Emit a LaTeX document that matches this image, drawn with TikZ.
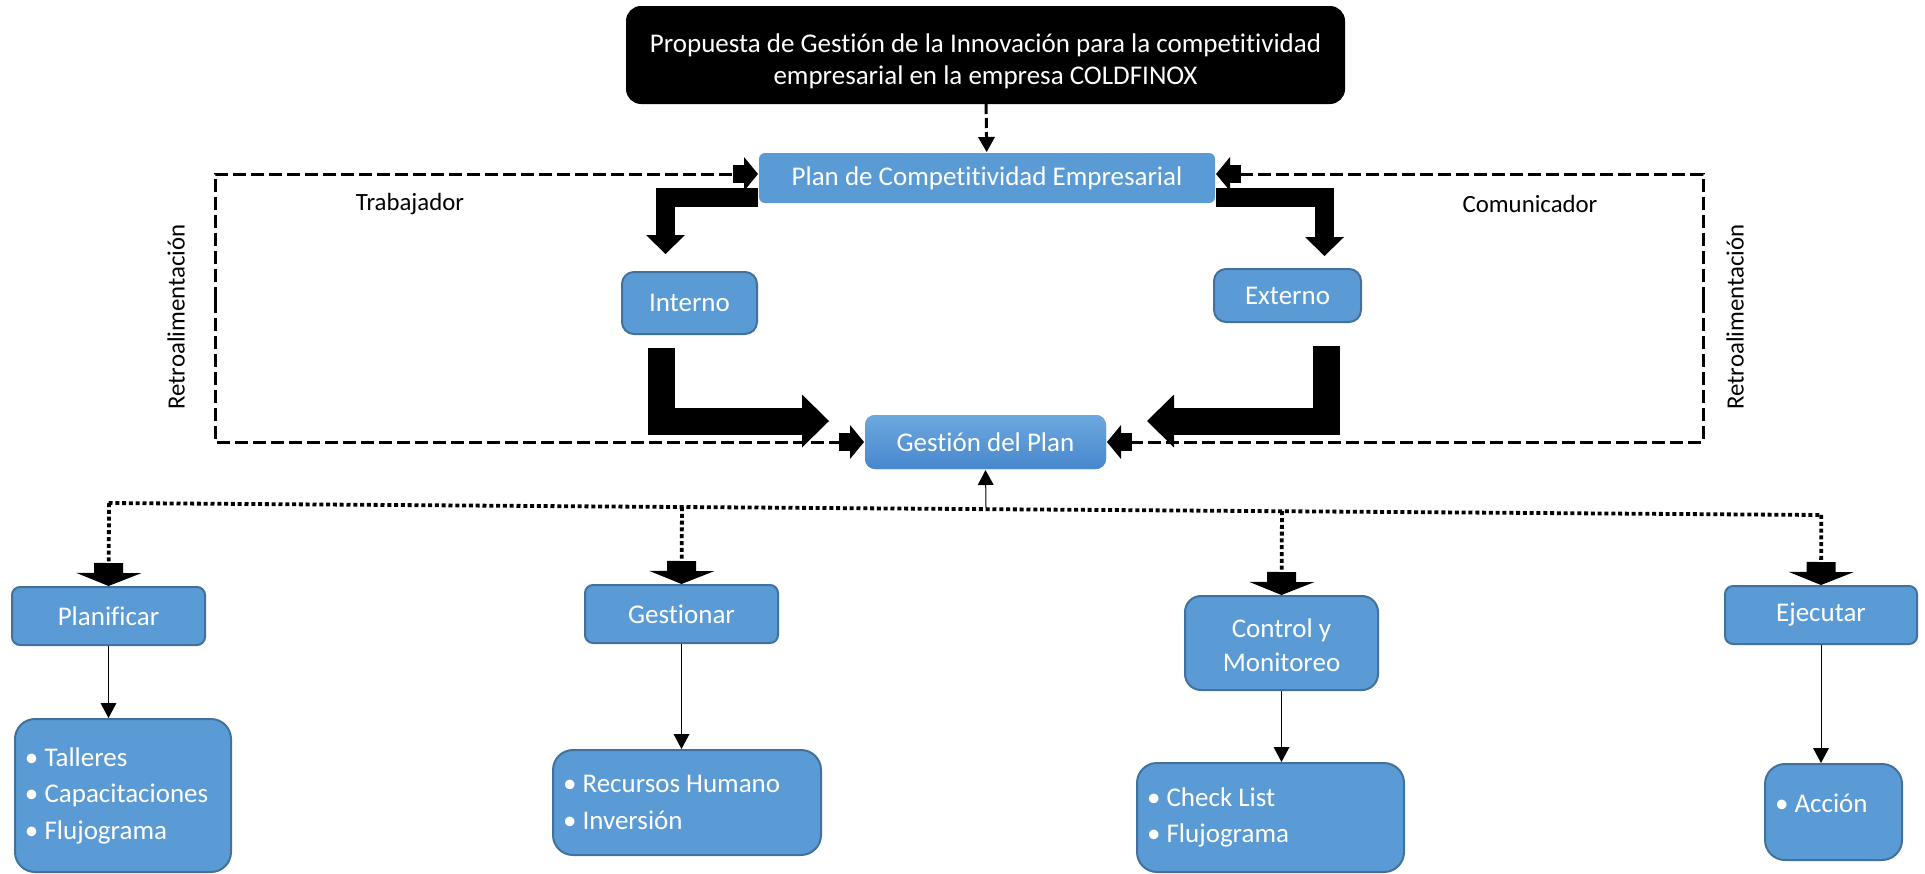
\documentclass[tikz,border=0pt]{standalone}
\usepackage{fontspec}
\setmainfont{Carlito}[Ligatures=NoCommon]
\usetikzlibrary{arrows.meta,calc}
\definecolor{azul}{HTML}{5B9BD5}
\definecolor{borde}{HTML}{41719C}
\definecolor{azulclaro}{HTML}{6DA8DF}
\definecolor{azuloscuro}{HTML}{4787CC}

\begin{document}
\begin{tikzpicture}[x=0.5pt,y=-0.5pt,
	caja/.style={rectangle,rounded corners=4pt,fill=azul,draw=borde,line width=1pt,text=white,
		font=\fontsize{13.5}{17}\selectfont,align=flush center,inner sep=0pt},
	lista/.style={caja,rounded corners=10pt,align=flush left,inner xsep=5pt,font=\fontsize{13.5}{18.25}\selectfont},
	etiqueta/.style={font=\fontsize{12.4}{15}\selectfont,inner sep=0pt},
	guion/.style={line width=1.5pt,dash pattern=on 5pt off 2pt,-{Triangle[length=7.5pt,width=8.5pt,line width=0pt]}},
	retro/.style={line width=1.5pt,dash pattern=on 6.5pt off 2.5pt,
		-{Rectangle[length=5.5pt,width=9pt,line width=0pt,sep=0pt]Triangle[length=7pt,width=17pt,line width=0pt]}},
	grueso/.style={line width=9.5pt,-{Triangle[length=9.5pt,width=19.5pt,line width=0pt]}},
	masgrueso/.style={line width=13.5pt,-{Triangle[length=13.5pt,width=26.5pt,line width=0pt]}},
	punteada/.style={line width=1.9pt,dash pattern=on 2pt off 1.4pt},
	rama/.style={punteada,-{Rectangle[length=5pt,width=14.5pt,line width=0pt,sep=0pt]Triangle[length=6.5pt,width=32.5pt,line width=0pt]}},
	fina/.style={line width=0.5pt,-{Triangle[length=7.5pt,width=8pt,line width=0pt]}}]
	\useasboundingbox (0,0) rectangle (1925,873);

	\node[caja,fill=black,draw=black,rounded corners=7pt,minimum width=358.5pt,minimum height=48pt,
		font=\fontsize{13.5}{16}\selectfont] (propuesta) at (985.5,55)
		{\rule{0pt}{15.5pt}Propuesta de Gestión de la Innovación para la competitividad\\empresarial en la empresa COLDFINOX};
	\node[caja,draw=none,rounded corners=3pt,minimum width=228pt,minimum height=25pt] (plan) at (987,178) {Plan de Competitividad Empresarial};
	\node[caja,rounded corners=6pt,minimum width=67.5pt,minimum height=31pt] (interno) at (689.5,303) {Interno};
	\node[caja,rounded corners=6pt,minimum width=73.5pt,minimum height=26.5pt] (externo) at (1287.5,295.5) {Externo};
	\node[caja,draw=none,top color=azulclaro,bottom color=azuloscuro,rounded corners=5pt,minimum width=120.5pt,minimum height=27pt] (gestion) at (985.5,442) {Gestión del Plan};

	\node[etiqueta] (trabajador) at (410,204) {Trabajador};
	\node[etiqueta] (comunicador) at (1530,204) {Comunicador};
	\node[etiqueta,rotate=90] (retroizq) at (176,317) {Retroalimentación};
	\node[etiqueta,rotate=90] (retroder) at (1735,317) {Retroalimentación};

	\node[caja,minimum width=96.5pt,minimum height=29pt] (planificar) at (108.5,616) {Planificar};
	\node[caja,minimum width=96.5pt,minimum height=29pt] (gestionar) at (681.5,614) {Gestionar};
	\node[caja,rounded corners=8pt,minimum width=96.5pt,minimum height=47pt] (control) at (1281.5,643) {\rule{0pt}{12pt}Control y\\Monitoreo};
	\node[caja,minimum width=96pt,minimum height=29pt] (ejecutar) at (1821,615) {Ejecutar};

	\node[lista,text width=98pt,minimum height=76.5pt] (lista1) at (123,795.5)
		{\textbullet\ Talleres\\\textbullet\ Capacitaciones\\\textbullet\ Flujograma};
	\node[lista,text width=124pt,minimum height=52.5pt] (lista2) at (687,802.5)
		{\textbullet\ Recursos Humano\\\textbullet\ Inversión};
	\node[lista,text width=123.5pt,minimum height=54.5pt] (lista3) at (1270.5,817.5)
		{\textbullet\ Check List\\\textbullet\ Flujograma};
	\node[lista,text width=58.5pt,minimum height=48pt] (lista4) at (1833.5,812)
		{\raisebox{4.5pt}[\height][\depth]{\textbullet\ Acción}};

	\coordinate (izq) at (215,300);
	\coordinate (der) at (1703,300);
	\coordinate (nodo) at (986,508);
	\coordinate (busizq) at (108.5,503);
	\coordinate (busder) at (1821,515);

	\draw[guion] (propuesta) -- (plan);
	\draw[retro] (izq) |- ([yshift=2pt]plan.west);
	\draw[retro] (izq) |- (gestion.west);
	\draw[retro] (der) |- ([yshift=2pt]plan.east);
	\draw[retro] (der) |- (gestion.east);

	\draw[grueso] ([yshift=-9.5pt]plan.west) -| ([xshift=-12pt,yshift=8.5pt]interno.north);
	\draw[masgrueso] ([xshift=-14pt,yshift=-6.5pt]interno.south) |- ([xshift=-17.5pt,yshift=10.5pt]gestion.west);
	\draw[grueso] ([yshift=-9.5pt]plan.east) -| ([xshift=18.5pt,yshift=6pt]externo.north);
	\draw[masgrueso] ([xshift=19.5pt,yshift=-11.5pt]externo.south) |- ([xshift=20pt,yshift=10.5pt]gestion.east);

	\draw[fina] (nodo) -- (gestion.south);
	\draw[punteada] (busizq) -- (busder);
	\foreach \b in {planificar,gestionar,control,ejecutar}{
		\draw[rama] ($(busizq)!(\b.north)!(busder)$) -- (\b.north);}
	\foreach \b/\l in {planificar/lista1,gestionar/lista2,control/lista3,ejecutar/lista4}{
		\draw[fina] (\b.south) -- (\b.south |- \l.north);}
\end{tikzpicture}
\end{document}
